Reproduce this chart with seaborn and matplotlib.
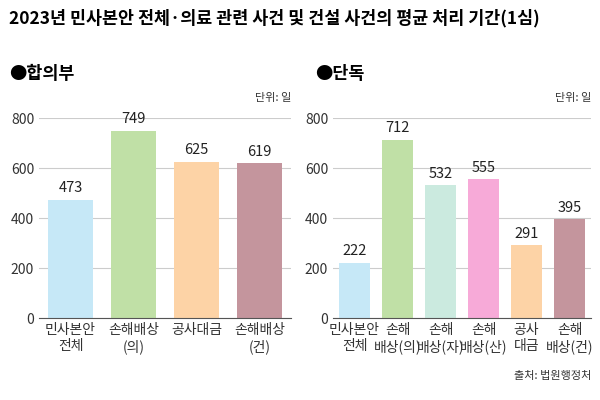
import matplotlib
matplotlib.use("Agg")
import matplotlib.pyplot as plt
from matplotlib import font_manager
import seaborn as sns
import pandas as pd

names = {f.name for f in font_manager.fontManager.ttflist}
cjk = [n for n in ["Noto Sans CJK KR", "Noto Sans CJK JP", "Noto Sans CJK SC", "Noto Sans CJK TC"] if n in names]
if not cjk:
    for f in font_manager.findSystemFonts():
        if "NotoSansCJK" in f or "Noto Sans CJK" in f:
            font_manager.fontManager.addfont(f)
    names = {f.name for f in font_manager.fontManager.ttflist}
    cjk = [n for n in names if "CJK" in n]
plt.rcParams["font.family"] = cjk + ["DejaVu Sans"]

left_cats = ["민사본안\n전체", "손해배상\n(의)", "공사대금", "손해배상\n(건)"]
left_vals = [473, 749, 625, 619]
left_colors = ["#c6e8f7", "#c0e0a6", "#fdd3a6", "#c4959d"]

right_cats = ["민사본안\n전체", "손해\n배상(의)", "손해\n배상(자)", "손해\n배상(산)", "공사\n대금", "손해\n배상(건)"]
right_vals = [222, 712, 532, 555, 291, 395]
right_colors = ["#c6e8f7", "#c0e0a6", "#cbeadf", "#f7aad8", "#fdd3a6", "#c4959d"]

fig = plt.figure(figsize=(6, 4), dpi=100)
ax1 = fig.add_axes([0.065, 0.205, 0.42, 0.50])
ax2 = fig.add_axes([0.555, 0.205, 0.43, 0.50])

def draw(ax, cats, vals, colors):
    df = pd.DataFrame({"c": cats, "v": vals})
    sns.barplot(data=df, x="c", y="v", hue="c", palette=colors, legend=False, ax=ax,
                width=0.72, saturation=1)
    ax.set_ylim(0, 800)
    ax.set_yticks([0, 200, 400, 600, 800])
    ax.grid(axis="y", color="#cccccc", lw=0.8)
    ax.set_axisbelow(True)
    for s in ["top", "right", "left"]:
        ax.spines[s].set_visible(False)
    ax.spines["bottom"].set_color("#555555")
    ax.tick_params(axis="both", length=0, labelsize=10, colors="#333333")
    ax.set_xlabel(""); ax.set_ylabel("")
    for i, v in enumerate(vals):
        ax.text(i, v + 18, str(v), ha="center", va="bottom", fontsize=10.5, color="#222222")

draw(ax1, left_cats, left_vals, left_colors)
draw(ax2, right_cats, right_vals, right_colors)

fig.text(0.015, 0.955, "2023년 민사본안 전체·의료 관련 사건 및 건설 사건의 평균 처리 기간(1심)",
         fontsize=12.5, fontweight="bold", va="center")
fig.text(0.015, 0.815, "●합의부", fontsize=12.5, fontweight="bold", va="center")
fig.text(0.525, 0.815, "●단독", fontsize=12.5, fontweight="bold", va="center")
fig.text(0.485, 0.755, "단위: 일", fontsize=8, ha="right", va="center", color="#333333")
fig.text(0.985, 0.755, "단위: 일", fontsize=8, ha="right", va="center", color="#333333")
fig.text(0.985, 0.06, "출처: 법원행정처", fontsize=8, ha="right", va="center", color="#333333")

fig.savefig("out.png", dpi=100, facecolor="white")
